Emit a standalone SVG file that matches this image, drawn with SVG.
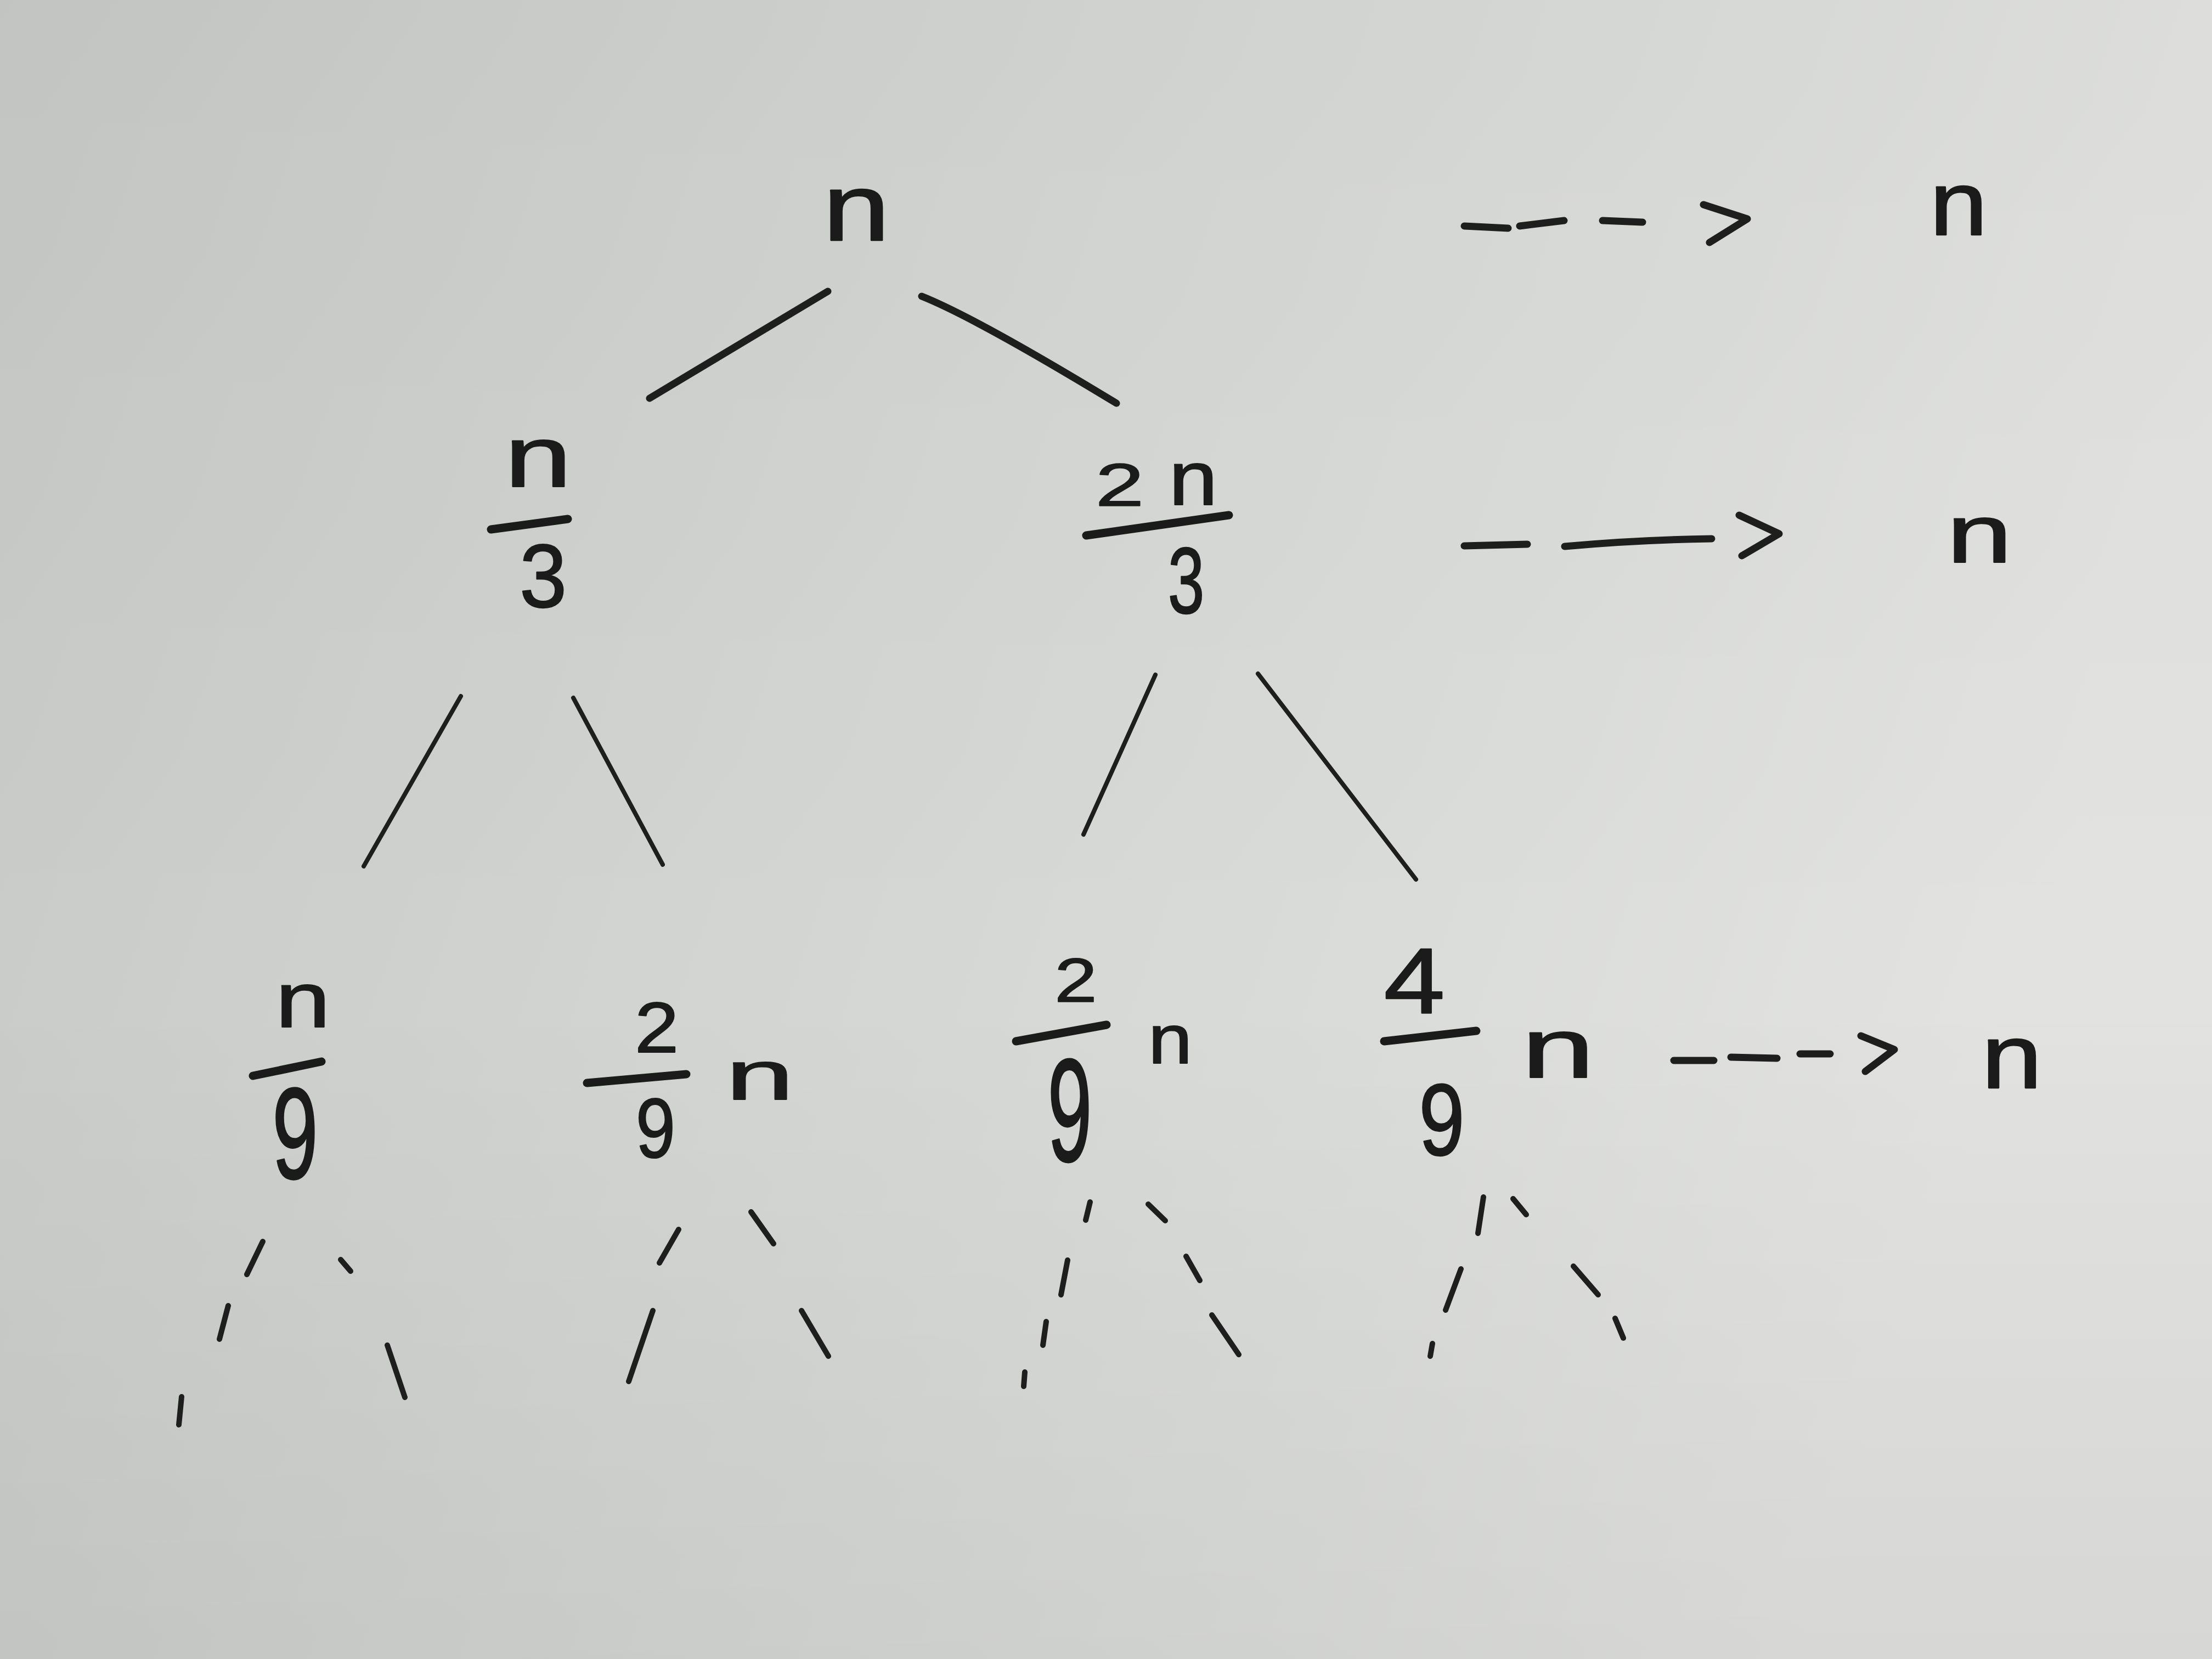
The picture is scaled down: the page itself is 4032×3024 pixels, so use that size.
<svg xmlns="http://www.w3.org/2000/svg" width="4032" height="3024" viewBox="0 0 4032 3024">
<defs>
<linearGradient id="paper" x1="0" y1="0" x2="1" y2="0.25">
<stop offset="0" stop-color="#c6c8c6"/>
<stop offset="0.45" stop-color="#d3d5d3"/>
<stop offset="1" stop-color="#e2e3e1"/>
</linearGradient>
<linearGradient id="shade" x1="0" y1="0" x2="0" y2="1">
<stop offset="0" stop-color="#000" stop-opacity="0.02"/>
<stop offset="0.6" stop-color="#000" stop-opacity="0"/>
<stop offset="1" stop-color="#000" stop-opacity="0.05"/>
</linearGradient>
<style>
.g{font-family:"Liberation Sans","DejaVu Sans",sans-serif;font-size:100px;fill:#1b1b1b;stroke:#1b1b1b;stroke-width:1.4;stroke-linejoin:round;text-anchor:middle;}
.ln{fill:none;stroke:#1e1e1e;stroke-linecap:round;stroke-linejoin:round;}
.thick{stroke-width:13;}
.mid{stroke-width:10;}
.thin{stroke-width:8;}
.bar{fill:none;stroke:#1b1b1b;stroke-linecap:round;stroke-width:15;}
</style>
</defs>
<rect width="4032" height="3024" fill="url(#paper)"/>
<rect width="4032" height="3024" fill="url(#shade)"/>

<g id="connectors">
<path class="ln thick" d="M1509,531 L1184,726"/>
<path class="ln thick" d="M1680,540 Q1780,580 2035,735"/>
<path class="ln thin" d="M840,1269 L663,1579"/>
<path class="ln thin" d="M1045,1272 L1208,1576"/>
<path class="ln thin" d="M2106,1230 L1975,1521"/>
<path class="ln thin" d="M2293,1228 L2581,1603"/>
<path class="ln mid" d="M479,2263 L450,2323 M621,2296 L639,2317 M416,2380 L400,2441 M706,2452 L738,2547 M331,2546 L326,2597"/>
<path class="ln mid" d="M1237,2241 L1202,2302 M1369,2209 L1410,2267 M1190,2389 L1146,2518 M1461,2389 L1510,2472"/>
<path class="ln mid" d="M1987,2191 L1979,2224 M2093,2195 L2124,2225 M1946,2297 L1934,2360 M2162,2290 L2187,2334 M1907,2409 L1901,2452 M2209,2397 L2258,2469 M1868,2501 L1866,2527"/>
<path class="ln mid" d="M2704,2182 L2694,2248 M2758,2185 L2782,2214 M2663,2313 L2635,2388 M2868,2308 L2913,2360 M2944,2403 L2959,2439 M2611,2449 L2607,2472"/>
<path class="ln thick" d="M2669,412 L2749,416 M2770,412 L2851,402 M2921,402 L2994,405 M3105,373 L3185,399 L3116,442"/>
<path class="ln thick" d="M2669,995 L2784,992 M2852,996 Q2980,984 3120,982 M3170,939 L3243,973 L3175,1013"/>
<path class="ln thick" d="M3051,1933 L3124,1933 M3155,1927 L3239,1929 M3281,1921 L3336,1921 M3392,1888 L3453,1913 L3400,1953"/>
</g>

<g id="root">
<text class="g" transform="translate(1561,438) scale(2.2,1.72)">n</text>
</g>

<g id="n-over-3">
<text class="g" transform="translate(981,887) scale(2.2,1.58)">n</text>
<path class="bar" d="M895,965 L1035,946"/>
<text class="g" transform="translate(990,1106) scale(1.55,1.63)">3</text>
</g>

<g id="2n-over-3">
<text class="g" transform="translate(2041,922) scale(1.6,1.1)">2</text>
<text class="g" transform="translate(2175,920) scale(1.6,1.4)">n</text>
<path class="bar" d="M1980,976 L2240,939"/>
<text class="g" transform="translate(2162,1117) scale(1.2,1.7)">3</text>
</g>

<g id="n-over-9">
<text class="g" transform="translate(552,1872) scale(1.8,1.43)">n</text>
<path class="bar" d="M461,1961 L586,1935"/>
<text class="g" transform="translate(538,2148) scale(1.5,2.35)">9</text>
</g>

<g id="2-9-n-a">
<text class="g" transform="translate(1197,1918) scale(1.45,1.3)">2</text>
<path class="bar" d="M1070,1974 L1251,1958"/>
<text class="g" transform="translate(1195,2110) scale(1.3,1.54)">9</text>
<text class="g" transform="translate(1385,2004) scale(2.25,1.27)">n</text>
</g>

<g id="2-9-n-b">
<text class="g" transform="translate(1961,1826) scale(1.4,1.13)">2</text>
<path class="bar" d="M1852,1898 L2017,1868"/>
<text class="g" transform="translate(1950,2116) scale(1.45,2.66)">9</text>
<text class="g" transform="translate(2133,1938) scale(1.45,1.27)">n</text>
</g>

<g id="4-9-n">
<text class="g" transform="translate(2578,1846) scale(2.0,1.69)">4</text>
<path class="bar" d="M2523,1898 L2691,1879"/>
<text class="g" transform="translate(2628,2105) scale(1.5,1.86)">9</text>
<text class="g" transform="translate(2840,1964) scale(2.4,1.54)">n</text>
</g>

<g id="sum-1">
<text class="g" transform="translate(3570,428) scale(1.9,1.66)">n</text>
</g>
<g id="sum-2">
<text class="g" transform="translate(3608,1025) scale(2.15,1.5)">n</text>
</g>
<g id="sum-3">
<text class="g" transform="translate(3667,1983) scale(2.0,1.66)">n</text>
</g>
</svg>
